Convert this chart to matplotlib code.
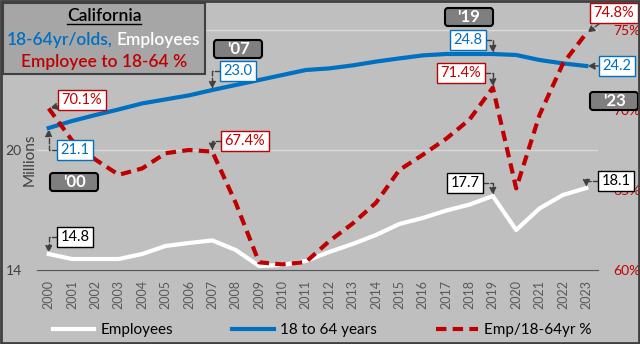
import matplotlib
matplotlib.use("Agg")
import matplotlib.pyplot as plt
from matplotlib.patches import Rectangle, FancyBboxPatch
from matplotlib.lines import Line2D
from matplotlib.transforms import IdentityTransform

plt.rcParams['font.family'] = ['Lato', 'DejaVu Sans']

years = [str(y) for y in range(2000, 2024)]
employees = [14.8, 14.55, 14.55, 14.55, 14.8, 15.2, 15.35, 15.48, 15.0, 14.2, 14.25, 14.45,
             14.9, 15.3, 15.75, 16.3, 16.6, 16.97, 17.27, 17.7, 16.0, 17.08, 17.75, 18.1]
pop_18_64 = [21.1, 21.45, 21.75, 22.03, 22.33, 22.53, 22.73, 23.0, 23.25, 23.5, 23.75, 24.0,
             24.08, 24.23, 24.42, 24.58, 24.73, 24.8, 24.8, 24.8, 24.75, 24.5, 24.33, 24.2]
emp_ratio = [70.1, 68.1, 66.9, 65.95, 66.35, 67.3, 67.5, 67.4, 64.2, 60.48, 60.35, 60.5,
             61.8, 62.9, 64.2, 66.25, 67.2, 68.2, 69.4, 71.4, 65.1, 69.7, 72.9, 74.8]
left_ticks = [14, 20, 26]
right_ticks = [60, 65, 70, 75]

W, H = 640, 344
BG = '#BFBFBF'
BLUE = '#0070C0'
RED = '#C00000'
DARK = '#404040'

def fx(px):
    return px / W

def fy(py):
    return 1 - py / H

fig = plt.figure(figsize=(6.4, 3.44), dpi=100, facecolor=BG)
ax = fig.add_axes([fx(37), fy(270), fx(598) - fx(37), fy(3) - fy(270)])
ax.set_facecolor(BG)
ax2 = ax.twinx()

x = list(range(len(years)))
ax.plot(x, employees, color='white', lw=3, label='Employees')
ax.plot(x, pop_18_64, color=BLUE, lw=3, label='18 to 64 years')
ax2.plot(x, emp_ratio, color=RED, lw=3, ls=(0, (2.5, 1.5)), label='Emp/18-64yr %')

ax.set_xlim(-0.5, len(years) - 0.5)
ax.set_ylim(14, 27.35)
ax2.set_ylim(60, 76.69)
ax.set_xticks(x)
ax.set_xticklabels(years, rotation=90, fontsize=9, color='#595959')
ax.set_yticks(left_ticks)
# top label sits under the title box in the original
ax.set_yticklabels([str(v) for v in left_ticks[:-1]] + [''])
ax.tick_params(axis='y', length=0, pad=11, labelsize=10, labelcolor=DARK)
ax.tick_params(axis='x', length=0, pad=7)
ax2.set_yticks(right_ticks)
ax2.set_yticklabels([f'{v}%' for v in right_ticks])
ax2.tick_params(axis='y', length=0, pad=11, labelsize=10, labelcolor=RED)
ax.yaxis.grid(True, color='#D9D9D9', lw=1)
ax.set_axisbelow(True)
for a in (ax, ax2):
    for s in ('top', 'left', 'right'):
        a.spines[s].set_visible(False)
    a.spines['bottom'].set_color('#595959')

fig.text(fx(30), fy(160), 'Millions', rotation=90, ha='center', va='center',
         fontsize=11, color=DARK)

# value callouts
def callout(text, xi, val, tx, ty, color, conn, xyc):
    ax2.annotate(text, xy=(xi, val), xycoords=xyc,
                 xytext=(fx(tx), fy(ty)), textcoords='figure fraction',
                 ha='center', va='center', fontsize=10.5, color=color,
                 bbox=dict(boxstyle='square,pad=0.22', fc='white', ec=color, lw=1),
                 arrowprops=dict(arrowstyle='-|>', ls='--', color=DARK, lw=1,
                                 connectionstyle=conn, shrinkA=0, shrinkB=1,
                                 mutation_scale=10),
                 annotation_clip=False, zorder=6)

elbow = 'angle,angleA=0,angleB=90,rad=0'
straight = 'arc3,rad=0'
callout(f'{emp_ratio[0]}%', 0, emp_ratio[0], 82, 100, RED, straight, 'data')
callout(f'{emp_ratio[7]}%', 7, emp_ratio[7], 245, 141, RED, elbow, 'data')
callout(f'{emp_ratio[19]}%', 19, emp_ratio[19], 461, 73, RED, elbow, 'data')
callout(f'{emp_ratio[23]}%', 23, emp_ratio[23], 614, 13, RED, straight, 'data')
callout(f'{pop_18_64[0]}', 0, pop_18_64[0], 75, 150, BLUE, elbow, ax.transData)
callout(f'{pop_18_64[7]}', 7, pop_18_64[7], 238, 71, BLUE, elbow, ax.transData)
callout(f'{pop_18_64[19]}', 19, pop_18_64[19], 468, 40, BLUE, elbow, ax.transData)
callout(f'{pop_18_64[23]}', 23, pop_18_64[23], 617, 66, BLUE, straight, ax.transData)
callout(f'{employees[0]}', 0, employees[0], 75, 237, 'black', elbow, ax.transData)
callout(f'{employees[19]}', 19, employees[19], 465, 183, 'black', elbow, ax.transData)
callout(f'{employees[23]}', 23, employees[23], 616, 181, 'black', elbow, ax.transData)

# year tags
def year_box(text, cx, cy, w=48, h=18):
    fig.add_artist(FancyBboxPatch((cx - w / 2, H - cy - h / 2), w, h,
                                  boxstyle='round,pad=0,rounding_size=3',
                                  transform=IdentityTransform(), fc='#7F7F7F',
                                  ec='black', lw=1.5, zorder=10))
    fig.text(fx(cx), fy(cy), text, ha='center', va='center', color='white',
             fontsize=12, fontweight='bold', zorder=11)

year_box("'00", 74, 182)
year_box("'07", 238, 49)
year_box("'19", 469, 17)
year_box("'23", 614, 101)

# title box
fig.add_artist(Rectangle((3, H - 74), 202, 71, transform=IdentityTransform(),
                         fc='#A6A6A6', ec=DARK, lw=1.5, zorder=10))
fig.text(fx(104), fy(16), 'California', ha='center', va='center', fontsize=12.5,
         fontweight='semibold', color='black', zorder=11)
fig.add_artist(Line2D([fx(67), fx(141)], [fy(24), fy(24)], color='black', lw=1,
                      transform=fig.transFigure, zorder=11))
fig.text(fx(113), fy(40), '18-64yr/olds,', ha='right', va='center', fontsize=12.5,
         fontweight='semibold', color=BLUE, zorder=11)
fig.text(fx(117), fy(40), 'Employees', ha='left', va='center', fontsize=12.5,
         fontweight='semibold', color='white', zorder=11)
fig.text(fx(104), fy(62), 'Employee to 18-64 %', ha='center', va='center', fontsize=12.5,
         fontweight='semibold', color=RED, zorder=11)

# legend
h1, l1 = ax.get_legend_handles_labels()
h2, l2 = ax2.get_legend_handles_labels()
fig.legend(h1 + h2, l1 + l2, loc='center', bbox_to_anchor=(fx(322), fy(330)), ncol=3,
           frameon=False, fontsize=11, handlelength=2.7, handletextpad=0.4,
           columnspacing=3.9)

# outer frame
fig.add_artist(Rectangle((1, 1), W - 2, H - 2, transform=IdentityTransform(),
                         fill=False, ec=DARK, lw=2, zorder=20))

fig.savefig('out.png', dpi=100, facecolor=BG)
